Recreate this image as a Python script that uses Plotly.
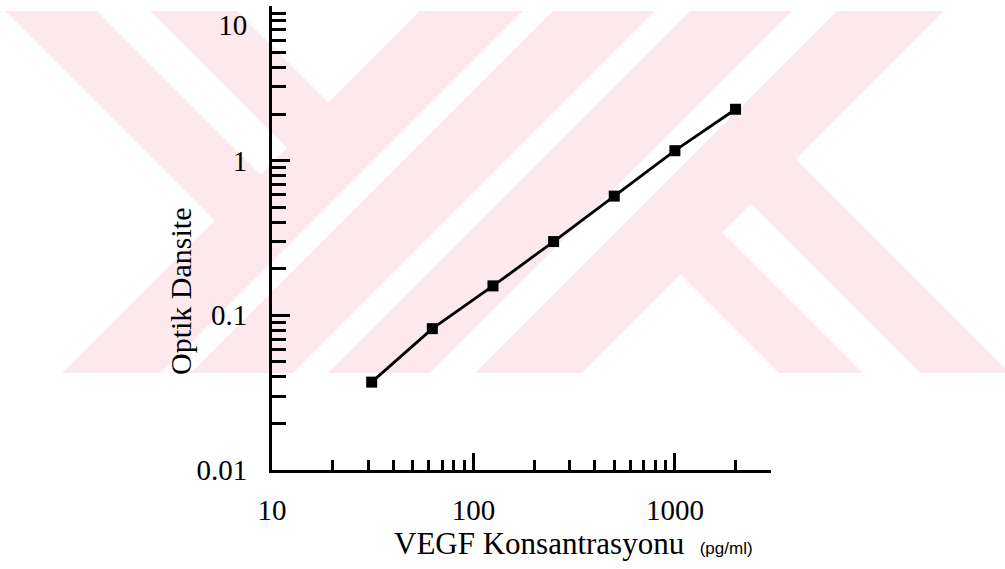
import plotly.graph_objects as go

# ---- data ----
concentration = [31.25, 62.5, 125, 250, 500, 1000, 2000]        # pg/ml
optical_density = [0.037, 0.082, 0.155, 0.30, 0.59, 1.16, 2.15]

x_major = [10, 100, 1000]
x_major_text = ["10", "100", "1000"]
y_major = [0.01, 0.1, 1, 10]
y_major_text = ["0.01", "0.1", "1", "<br>10"]

x_minor = [m * d for d in (10, 100, 1000) for m in range(2, 10) if m * d <= 3000]
y_minor = [m * d for d in (0.01, 0.1, 1) for m in range(2, 10)]

# ---- layout geometry (pixels) ----
FW, FH = 1005, 569
L, T, R, B = 272, 6, 771, 470
W, H = R - L, B - T


def px(x):
    return (x - L) / W


def py(y):
    return 1 - (y - T) / H


def poly(points):
    return "M " + " L ".join(f"{px(x):.5f},{py(y):.5f}" for x, y in points) + " Z"


PINK = "#fce9ed"
shapes = [dict(type="path", xref="paper", yref="paper", layer="below",
               path=poly([(0, 11), (1005, 11), (1005, 373), (0, 373)]),
               fillcolor=PINK, line=dict(width=0))]
white_regions = [
    [(0, 11), (5, 11), (214.5, 220.5), (62, 373), (0, 373)],
    [(97, 11), (150, 11), (287, 148), (260.5, 174.5)],
    [(237, 11), (420, 11), (328.5, 102.5)],
    [(523, 11), (553, 11), (191, 373), (161, 373)],
    [(655, 11), (690, 11), (328, 373), (293, 373)],
    [(792, 11), (837, 11), (475, 373), (430, 373)],
    [(944, 11), (1005, 11), (1005, 368), (796, 159)],
    [(680.5, 274.5), (779, 373), (582, 373)],
    [(722.5, 232.5), (751, 204), (920, 373), (863, 373)],
]
for pts in white_regions:
    shapes.append(dict(type="path", xref="paper", yref="paper", layer="below",
                       path=poly(pts), fillcolor="white", line=dict(width=0)))

SERIF = "Liberation Serif, Times New Roman, serif"

fig = go.Figure()
fig.add_trace(go.Scatter(
    x=concentration, y=optical_density, mode="lines+markers",
    line=dict(color="black", width=2.8),
    marker=dict(symbol="square", size=11, color="black"),
    showlegend=False,
))

fig.update_layout(
    width=FW, height=FH,
    margin=dict(l=L, r=FW - R, t=T, b=FH - B, pad=0, autoexpand=False),
    paper_bgcolor="white", plot_bgcolor="rgba(0,0,0,0)",
    shapes=shapes,
    font=dict(family=SERIF, color="black", size=29),
    xaxis=dict(
        type="log", range=[1, 3.4771], automargin=False,
        showline=True, linecolor="black", linewidth=3,
        showgrid=False, zeroline=False,
        ticks="inside", ticklen=17, tickwidth=2.5, tickcolor="black",
        tickmode="array", tickvals=x_major, ticktext=x_major_text,
        ticklabelstandoff=12,
        tickfont=dict(family=SERIF, size=29, color="black"),
        minor=dict(tickmode="array", tickvals=x_minor, ticks="inside",
                   ticklen=10, tickwidth=2.5, tickcolor="black", showgrid=False),
    ),
    yaxis=dict(
        type="log", range=[-2, 1], automargin=False,
        showline=True, linecolor="black", linewidth=3,
        showgrid=False, zeroline=False,
        ticks="inside", ticklen=18, tickwidth=2.5, tickcolor="black",
        tickmode="array", tickvals=y_major, ticktext=y_major_text,
        ticklabelstandoff=16,
        tickfont=dict(family=SERIF, size=29, color="black"),
        minor=dict(tickmode="array", tickvals=y_minor, ticks="inside",
                   ticklen=14, tickwidth=2.5, tickcolor="black", showgrid=False),
    ),
    annotations=[
        dict(text="Optik Dansite", textangle=-90, showarrow=False,
             xref="paper", yref="paper", x=px(180), y=py(292),
             xanchor="center", yanchor="middle",
             font=dict(family=SERIF, size=30, color="black")),
        dict(text="VEGF Konsantrasyonu&nbsp;&nbsp;<span style='font-family:Liberation Sans, Arial, sans-serif; font-size:17px'>(pg/ml)</span>",
             showarrow=False, xref="paper", yref="paper",
             x=px(392), y=py(543), xanchor="left", yanchor="middle",
             font=dict(family=SERIF, size=31, color="black")),
    ],
)

fig.write_html(
    "out.html",
    config={"displayModeBar": False},
    post_script="document.body.style.margin='0px';document.body.style.overflow='hidden';",
)
